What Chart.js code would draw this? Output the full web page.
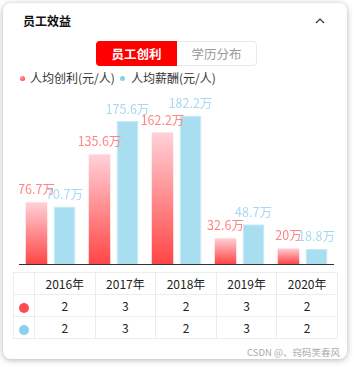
<!DOCTYPE html>
<html>
<head>
<meta charset="utf-8">
<script src="https://cdn.jsdelivr.net/npm/chart.js@4.4.1/dist/chart.umd.min.js"></script>
<style>
  html, body { margin: 0; padding: 0; background: #fff; }
  body { width: 354px; height: 367px; position: relative; overflow: hidden;
         font-family: "Noto Sans CJK SC", "Noto Sans", sans-serif; }
  .card { position: absolute; left: 3px; top: 3px; width: 344px; height: 356px;
          background: #fff; border-radius: 8px; box-shadow: 0 1px 6px rgba(0,0,0,0.3); }
  .title { position: absolute; left: 23px; top: 12px; font-size: 12px; font-weight: bold; color: #111; line-height: 18px; }
  .chev { position: absolute; left: 315px; top: 17px; }
  .tabs { position: absolute; left: 96px; top: 41px; width: 159px; height: 23px;
          border: 1px solid #e8e8e8; border-radius: 4px; font-size: 12.5px; line-height: 23px; }
  .tabs .on { position: absolute; left: -1px; top: -1px; width: 81px; height: 25px; background: #ff0000;
              color: #fff; text-align: center; line-height: 25px; border-radius: 4px 0 0 4px; font-weight: bold; }
  .tabs .off { position: absolute; left: 80px; top: 0; width: 79px; text-align: center; color: #999; }
  .legend { position: absolute; top: 69px; left: 0; font-size: 12px; color: #333; line-height: 18px; }
  .legend span { position: absolute; white-space: nowrap; }
  .dot { width: 5px; height: 5px; border-radius: 50%; top: 7px; }
  #wrap { position: absolute; left: 19px; top: 88px; width: 315px; height: 178px; }
  table { position: absolute; left: 13px; top: 272px; width: 325px; border-collapse: collapse;
          font-family: "Liberation Sans Narrow", "Noto Sans CJK SC", sans-serif; font-size: 12px; color: #222; }
  td { border: 1px solid #ececec; height: 21px; padding: 0; text-align: center; }
  td.first { width: 20px; }
  .tdot { display: inline-block; width: 10px; height: 10px; border-radius: 50%; vertical-align: middle; }
  .mark { position: absolute; right: 14px; top: 345px; font-size: 9.5px; color: #aaa; }
</style>
</head>
<body>
<div class="card"></div>
<div class="title">员工效益</div>
<svg class="chev" width="10" height="8"><polyline points="1,6 5,2 9,6" fill="none" stroke="#333" stroke-width="1.2"/></svg>
<div class="tabs"><div class="on">员工创利</div><div class="off">学历分布</div></div>
<div class="legend" id="legend"></div>
<div id="wrap"><canvas id="chartOne"></canvas></div>
<table id="tbl"></table>
<div class="mark">CSDN @、窍码笑春风</div>
<script>
const years = ['2016年', '2017年', '2018年', '2019年', '2020年'];
const seriesNames = ['人均创利(元/人)', '人均薪酬(元/人)'];
const profit = [76.7, 135.6, 162.2, 32.6, 20];
const salary = [70.7, 175.6, 182.2, 48.7, 18.8];
const profitRow = [2, 3, 2, 3, 2];
const salaryRow = [2, 3, 2, 3, 2];

// legend (html)
const legend = document.getElementById('legend');
legend.innerHTML =
  '<span class="dot" style="left:20px;background:radial-gradient(circle at 40% 35%,#ff9a9a,#ff3030)"></span>' +
  '<span style="left:30px">' + seriesNames[0] + '</span>' +
  '<span class="dot" style="left:120px;background:#8ccfee"></span>' +
  '<span style="left:131px">' + seriesNames[1] + '</span>';

// table under the chart
let html = '<tr><td class="first"></td>' + years.map(y => '<td>' + y + '</td>').join('') + '</tr>';
html += '<tr><td class="first"><span class="tdot" style="background:#ff4a50"></span></td>' + profitRow.map(v => '<td>' + v + '</td>').join('') + '</tr>';
html += '<tr><td class="first"><span class="tdot" style="background:#8ccfee"></span></td>' + salaryRow.map(v => '<td>' + v + '</td>').join('') + '</tr>';
document.getElementById('tbl').innerHTML = html;

function redGradient(context) {
  const chart = context.chart;
  const area = chart.chartArea;
  if (!area) return '#ff6b6b';
  const v = context.raw;
  const y = chart.scales.y;
  const top = y.getPixelForValue(v);
  const bottom = y.getPixelForValue(0);
  const g = chart.ctx.createLinearGradient(0, top, 0, bottom);
  g.addColorStop(0, '#ffd3da');
  g.addColorStop(1, '#ff4646');
  return g;
}

// value labels above bars
const labelPlugin = {
  id: 'valueLabels',
  afterDatasetsDraw(chart) {
    const ctx = chart.ctx;
    ctx.save();
    ctx.font = '12.5px "Noto Sans CJK SC", sans-serif';
    ctx.textAlign = 'center';
    ctx.textBaseline = 'middle';
    chart.data.datasets.forEach((ds, i) => {
      const meta = chart.getDatasetMeta(i);
      ctx.fillStyle = i === 0 ? '#ff8585' : '#a6d9f1';
      meta.data.forEach((bar, j) => {
        ctx.fillText(ds.data[j] + '万', bar.x, bar.y - 12);
      });
    });
    // axis line
    const a = chart.chartArea;
    ctx.strokeStyle = '#333';
    ctx.lineWidth = 1.2;
    ctx.beginPath();
    ctx.moveTo(a.left, a.bottom + 0.5);
    ctx.lineTo(a.right, a.bottom + 0.5);
    ctx.stroke();
    ctx.restore();
  }
};

const ctx = document.getElementById('chartOne').getContext('2d');
let chart_one = new Chart(ctx, {
  type: 'bar',
  data: {
    labels: years,
    datasets: [{
      label: seriesNames[0],
      data: profit,
      backgroundColor: redGradient,
      borderColor: '#ffe6eb',
      borderWidth: { top: 1, left: 0, right: 0, bottom: 0 },
      borderSkipped: false
    }, {
      label: seriesNames[1],
      data: salary,
      backgroundColor: '#a9ddf0',
      borderColor: '#c9ebf8',
      borderWidth: 1,
      borderSkipped: 'bottom'
    }]
  },
  options: {
    responsive: true,
    maintainAspectRatio: false,
    animation: false,
    layout: { padding: { top: 13, bottom: 2, left: 0, right: 0 } },
    datasets: { bar: { categoryPercentage: 0.889, barPercentage: 0.786 } },
    scales: {
      x: { display: false },
      y: { display: false, min: 0, max: 200 }
    },
    plugins: {
      legend: { display: false },
      tooltip: { enabled: false }
    }
  },
  plugins: [labelPlugin]
});
</script>
</body>
</html>
